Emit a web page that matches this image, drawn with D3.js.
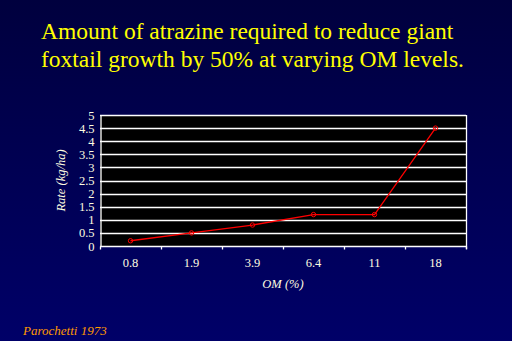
<!DOCTYPE html>
<html>
<head>
<meta charset="utf-8">
<script src="https://cdn.jsdelivr.net/npm/d3@7/dist/d3.min.js"></script>
<style>
  html, body { margin: 0; padding: 0; background: #000050; }
  svg { display: block; }
  svg text { font-family: "Liberation Serif", "Times New Roman", serif; }
</style>
</head>
<body>
<svg id="chart" width="512" height="341"></svg>
<script>
// Organic matter levels (%) and atrazine rate needed for 50% growth reduction
const omLevels = ["0.8", "1.9", "3.9", "6.4", "11", "18"];
const rates = [0.2, 0.5, 0.8, 1.2, 1.2, 4.5];
const yTicks = [0, 0.5, 1, 1.5, 2, 2.5, 3, 3.5, 4, 4.5, 5];
const titleLines = [
  "Amount of atrazine required to reduce giant",
  "foxtail growth by 50% at varying OM levels."
];

const SERIF = '"Liberation Serif", "Times New Roman", serif';

const svg = d3.select("#chart");
const W = 512, H = 341;

// Slide background
const defs = svg.append("defs");
const grad = defs.append("linearGradient").attr("id", "bg")
  .attr("x1", 0).attr("y1", 0).attr("x2", 0).attr("y2", 1);
grad.append("stop").attr("offset", "0%").attr("stop-color", "#00003e");
grad.append("stop").attr("offset", "100%").attr("stop-color", "#000068");
svg.append("rect").attr("width", W).attr("height", H).attr("fill", "url(#bg)");

// Title
svg.append("g").selectAll("text").data(titleLines).join("text")
  .attr("x", 41).attr("y", (d, i) => 39 + i * 27.5)
  .attr("fill", "#ffff00").attr("font-size", 23.5)
  .style("font-family", SERIF)
  .text(d => d);

const m = { left: 100, right: 466, top: 115, bottom: 246 };

const x = d3.scaleBand().domain(omLevels).range([m.left, m.right]);
const y = d3.scaleLinear().domain([0, 5]).range([m.bottom, m.top]);

// Plot area
svg.append("rect")
  .attr("x", m.left).attr("y", m.top)
  .attr("width", m.right - m.left).attr("height", m.bottom - m.top)
  .attr("fill", "#000000");

// Horizontal gridlines
svg.append("g").selectAll("line").data(yTicks.filter(d => d > 0)).join("line")
  .attr("x1", m.left).attr("x2", m.right)
  .attr("y1", d => Math.round(y(d)) + 0.5).attr("y2", d => Math.round(y(d)) + 0.5)
  .attr("stroke", "#ffffff").attr("stroke-width", 1.3);

// Right frame edge
svg.append("line")
  .attr("x1", m.right + 0.5).attr("x2", m.right + 0.5)
  .attr("y1", m.top).attr("y2", m.bottom + 3)
  .attr("stroke", "#ffffff").attr("stroke-width", 1.3);

// Y axis
const yAxis = svg.append("g")
  .attr("transform", `translate(${m.left + 0.5},0)`)
  .call(d3.axisLeft(y).tickValues(yTicks).tickSize(0).tickPadding(6)
    .tickFormat(d3.format("")));
yAxis.attr("font-family", null).attr("font-size", null);
yAxis.select(".domain").attr("stroke", "#ffffff").attr("stroke-width", 1.3);
yAxis.selectAll("text").attr("fill", "#fffde0").attr("font-size", 12.5)
  .style("font-family", SERIF);

// X axis with ticks at the category boundaries
const xAxisG = svg.append("g").attr("transform", `translate(0,${m.bottom + 0.5})`);
xAxisG.append("line").attr("x1", m.left).attr("x2", m.right + 1)
  .attr("stroke", "#ffffff").attr("stroke-width", 1.3);
const bounds = omLevels.map(d => x(d)).concat([m.right]);
xAxisG.selectAll("line.tick").data(bounds).join("line").attr("class", "tick")
  .attr("x1", d => Math.round(d) + 0.5).attr("x2", d => Math.round(d) + 0.5)
  .attr("y1", 0).attr("y2", 3)
  .attr("stroke", "#ffffff").attr("stroke-width", 1.3);
xAxisG.selectAll("text").data(omLevels).join("text")
  .attr("x", d => x(d) + x.bandwidth() / 2).attr("y", 20)
  .attr("text-anchor", "middle").attr("fill", "#fffde0").attr("font-size", 12.5)
  .style("font-family", SERIF)
  .text(d => d);

// Axis titles
svg.append("text")
  .attr("x", (m.left + m.right) / 2).attr("y", 288)
  .attr("text-anchor", "middle").attr("fill", "#fffde0")
  .attr("font-size", 12.5).attr("font-style", "italic")
  .style("font-family", SERIF)
  .text("OM (%)");
svg.append("text")
  .attr("transform", `translate(65,${(m.top + m.bottom) / 2}) rotate(-90)`)
  .attr("text-anchor", "middle").attr("fill", "#fffde0")
  .attr("font-size", 12.5).attr("font-style", "italic")
  .style("font-family", SERIF)
  .text("Rate (kg/ha)");

// Data line and markers
const pts = omLevels.map((d, i) => [x(d) + x.bandwidth() / 2, y(rates[i])]);
svg.append("path")
  .attr("d", d3.line()(pts))
  .attr("fill", "none").attr("stroke", "#ff0000").attr("stroke-width", 1.3);
svg.append("g").selectAll("circle").data(pts).join("circle")
  .attr("cx", d => d[0]).attr("cy", d => d[1]).attr("r", 2.2)
  .attr("fill", "none").attr("stroke", "#ff0000").attr("stroke-width", 1);

// Source note
svg.append("text")
  .attr("x", 23).attr("y", 334.5)
  .attr("fill", "#ff9900").attr("font-size", 13).attr("font-style", "italic")
  .style("font-family", SERIF)
  .text("Parochetti 1973");
</script>
</body>
</html>
